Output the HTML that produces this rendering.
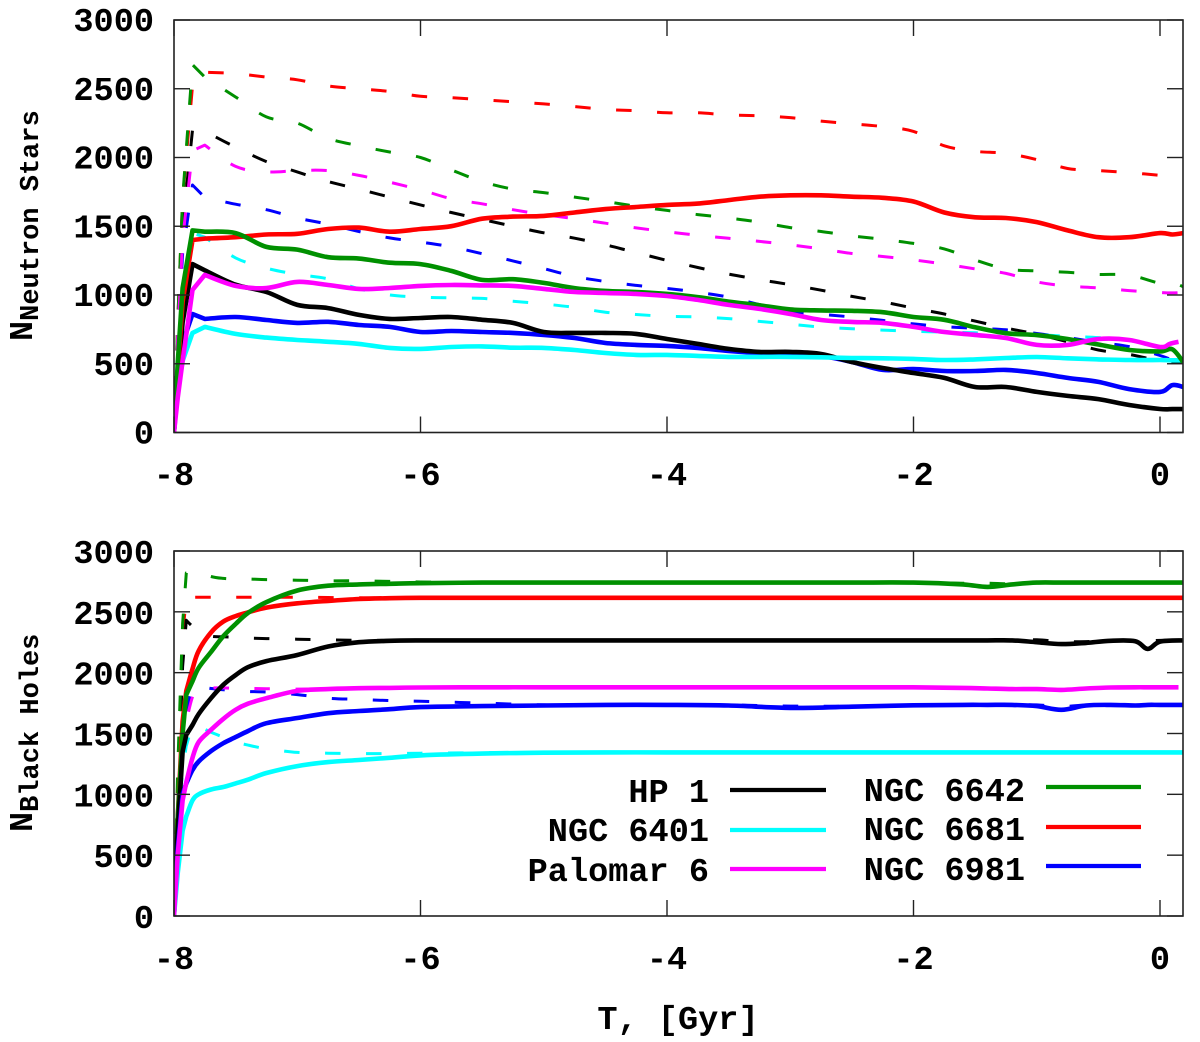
<!DOCTYPE html>
<html lang="en">
<head>
<meta charset="utf-8">
<title>Neutron stars and black holes over time</title>
<style>
html,body{margin:0;padding:0;background:#fff;width:1200px;height:1042px;overflow:hidden}
svg{display:block}
text{font-family:"Liberation Mono",monospace;font-weight:bold;fill:#000}
</style>
</head>
<body>
<svg id="chart" width="1200" height="1042" viewBox="0 0 1200 1042" xmlns="http://www.w3.org/2000/svg">
<defs>
<clipPath id="clip-top"><rect x="174" y="20" width="1009" height="412.5"/></clipPath>
<clipPath id="clip-bottom"><rect x="174" y="551" width="1009" height="365"/></clipPath>
</defs>
<g id="top-panel"></g>
<g id="bottom-panel"></g>
<text transform="translate(32,341) rotate(-90)" font-size="33.6">N<tspan dy="6" font-size="27">Neutron Stars</tspan></text>
<text transform="translate(32,832) rotate(-90)" font-size="33.6">N<tspan dy="6" font-size="27">Black Holes</tspan></text>
<text x="678" y="1029" font-size="33.6" text-anchor="middle">T, [Gyr]</text>
<g>
<g><text x="709" y="802" font-size="33.6" text-anchor="end">HP 1</text><line x1="730" x2="826" y1="790" y2="790" stroke="#000" stroke-width="4.2"/></g>
<g><text x="709" y="841" font-size="33.6" text-anchor="end">NGC 6401</text><line x1="730" x2="826" y1="830" y2="830" stroke="#00ffff" stroke-width="4.2"/></g>
<g><text x="709" y="881" font-size="33.6" text-anchor="end">Palomar 6</text><line x1="730" x2="826" y1="869" y2="869" stroke="#ff00ff" stroke-width="4.2"/></g>
<g><text x="1025" y="801" font-size="33.6" text-anchor="end">NGC 6642</text><line x1="1046" x2="1141" y1="787" y2="787" stroke="#009000" stroke-width="4.2"/></g>
<g><text x="1025" y="840" font-size="33.6" text-anchor="end">NGC 6681</text><line x1="1046" x2="1141" y1="827" y2="827" stroke="#ff0000" stroke-width="4.2"/></g>
<g><text x="1025" y="880" font-size="33.6" text-anchor="end">NGC 6981</text><line x1="1046" x2="1141" y1="866" y2="866" stroke="#0000ff" stroke-width="4.2"/></g>
</g>
</svg>
<script>
const xTickLabels = [-8, -6, -4, -2, 0];
const yTickLabels = [0, 500, 1000, 1500, 2000, 2500, 3000];

const topTimes = [-8,-7.97,-7.93,-7.85,-7.75,-7.5,-7.25,-7,-6.75,-6.5,-6.25,-6,-5.75,-5.5,-5.25,-5,-4.75,-4.5,-4.25,-4,-3.75,-3.5,-3.25,-3,-2.75,-2.5,-2.25,-2,-1.75,-1.5,-1.25,-1,-0.75,-0.5,-0.25,0,0.1,0.19];
const palomarTopTimes = [-8,-7.97,-7.93,-7.85,-7.75,-7.5,-7.25,-7,-6.75,-6.5,-6.25,-6,-5.75,-5.5,-5.25,-5,-4.75,-4.5,-4.25,-4,-3.75,-3.5,-3.25,-3,-2.75,-2.5,-2.25,-2,-1.75,-1.5,-1.25,-1,-0.75,-0.5,-0.25,0,0.08,0.15];

const nsBlackDash = [0,700,1500,2200,2190,2075,1970,1895,1825,1770,1712,1655,1600,1550,1500,1452,1413,1365,1308,1252,1200,1152,1112,1075,1035,990,950,905,862,810,760,715,660,600,568,520,513,510];
const nsCyanDash = [0,600,1100,1450,1420,1270,1195,1150,1117,1045,1000,985,979,975,955,935,910,875,858,845,840,828,808,787,767,755,745,737,730,725,720,712,700,690,668,630,600,530];
const nsMagentaDash = [0,700,1400,2050,2090,1935,1895,1905,1905,1870,1820,1765,1700,1663,1620,1585,1555,1522,1488,1460,1435,1412,1390,1365,1335,1302,1280,1255,1225,1190,1157,1095,1065,1052,1032,1018,1015,1020];
const nsGreenDash = [0,800,1700,2675,2585,2440,2295,2250,2140,2085,2040,2000,1910,1825,1770,1745,1712,1680,1645,1615,1585,1560,1530,1490,1462,1430,1405,1375,1335,1255,1190,1175,1165,1150,1145,1085,1090,1060];
const nsRedDash = [0,800,1700,2520,2620,2610,2585,2565,2520,2500,2480,2445,2435,2420,2405,2390,2370,2350,2340,2325,2325,2310,2303,2290,2265,2245,2225,2190,2085,2045,2030,1985,1920,1905,1890,1870,1862,1855];
const nsBlueDash = [0,650,1300,1800,1710,1660,1620,1560,1515,1462,1415,1385,1350,1300,1248,1192,1135,1098,1070,1048,1020,985,930,880,860,840,815,790,770,758,747,720,690,655,625,560,530,520];

const nsBlack = [0,400,800,1225,1180,1075,1022,928,905,855,826,833,840,820,797,731,724,724,717,680,644,608,586,586,571,513,469,433,397,331,331,295,266,243,200,171,170,170];
const nsCyan = [0,300,520,724,768,717,690,673,660,644,615,608,622,626,617,615,600,578,564,564,557,550,550,550,547,542,540,535,527,532,542,549,540,532,527,527,525,525];
const nsMagenta = [0,250,520,1037,1146,1066,1051,1095,1073,1044,1051,1066,1073,1070,1066,1044,1022,1015,1008,993,964,928,899,862,818,804,797,768,731,710,687,637,637,680,673,622,645,660];
const nsGreen = [0,500,1050,1470,1460,1450,1350,1330,1275,1265,1235,1225,1175,1110,1115,1088,1050,1030,1022,1008,985,952,925,895,888,885,875,840,820,765,722,708,680,640,600,590,605,510];
const nsRed = [0,450,950,1400,1410,1420,1440,1445,1480,1490,1460,1480,1500,1555,1570,1575,1600,1625,1640,1655,1665,1690,1715,1725,1725,1715,1707,1680,1600,1565,1560,1530,1470,1420,1420,1450,1440,1450];
const nsBlue = [0,350,650,862,826,840,818,797,805,782,768,731,738,731,724,710,687,651,637,630,615,593,579,579,557,513,455,462,447,447,455,433,397,368,316,295,345,331];

const bottomTimes = [-8,-7.97,-7.93,-7.9,-7.85,-7.8,-7.7,-7.6,-7.5,-7.4,-7.25,-7,-6.75,-6.5,-6.25,-6,-5.5,-5,-4.5,-4,-3.5,-3,-2.5,-2,-1.6,-1.4,-1.2,-1,-0.8,-0.6,-0.4,-0.2,-0.1,0,0.19];
const palomarBottomTimes = [-8,-7.97,-7.93,-7.9,-7.85,-7.8,-7.7,-7.6,-7.5,-7.4,-7.25,-7,-6.75,-6.5,-6.25,-6,-5.5,-5,-4.5,-4,-3.5,-3,-2.5,-2,-1.6,-1.4,-1.2,-1,-0.8,-0.6,-0.4,-0.2,-0.1,0,0.15];

const bhBlackDash = [0,900,2050,2430,2380,2340,2300,2295,2290,2285,2280,2275,2270,2265,2265,2265,2265,2265,2265,2265,2265,2265,2265,2265,2265,2265,2265,2270,2255,2255,2265,2265,2260,2265,2265];
const bhCyanDash = [0,700,1200,1400,1550,1560,1510,1470,1430,1405,1375,1345,1338,1335,1335,1338,1342,1345,1345,1345,1345,1345,1345,1345,1345,1345,1345,1345,1345,1345,1345,1345,1345,1345,1345];
const bhMagentaDash = [0,750,1300,1600,1800,1870,1875,1875,1870,1870,1868,1865,1868,1872,1875,1878,1880,1880,1880,1880,1880,1880,1880,1880,1875,1870,1865,1865,1860,1870,1875,1880,1880,1880,1880];
const bhGreenDash = [0,1200,2400,2820,2830,2830,2790,2775,2770,2770,2765,2760,2755,2755,2750,2745,2740,2740,2740,2740,2740,2740,2740,2740,2735,2735,2730,2740,2740,2740,2740,2740,2740,2740,2740];
const bhRedDash = [0,1000,2300,2620,2620,2620,2620,2620,2620,2620,2620,2620,2618,2615,2615,2615,2615,2615,2615,2615,2615,2615,2615,2615,2615,2615,2615,2615,2615,2615,2615,2615,2615,2615,2615];
const bhBlueDash = [0,800,1400,1700,1860,1885,1870,1860,1850,1845,1840,1820,1790,1780,1770,1765,1750,1735,1735,1735,1735,1725,1725,1735,1735,1735,1735,1735,1720,1735,1735,1735,1735,1735,1735];

const bhBlack = [0,700,1350,1490,1570,1660,1790,1900,1980,2045,2095,2145,2215,2250,2262,2265,2265,2265,2265,2265,2265,2265,2265,2265,2265,2265,2265,2250,2235,2245,2262,2258,2195,2255,2265];
const bhCyan = [0,350,700,820,950,1000,1040,1060,1090,1120,1175,1232,1265,1282,1300,1320,1335,1342,1345,1345,1345,1345,1345,1345,1345,1345,1345,1345,1345,1345,1345,1345,1345,1345,1345];
const bhMagenta = [0,500,950,1100,1300,1430,1530,1620,1695,1745,1790,1850,1865,1872,1875,1878,1880,1880,1880,1880,1880,1880,1880,1880,1875,1870,1865,1865,1858,1870,1878,1880,1880,1880,1880];
const bhGreen = [0,800,1500,1820,1930,2040,2170,2300,2400,2490,2580,2675,2715,2725,2730,2735,2740,2740,2740,2740,2740,2740,2740,2740,2725,2705,2725,2740,2740,2740,2740,2740,2740,2740,2740];
const bhRed = [0,800,1600,1850,2030,2180,2330,2420,2465,2495,2535,2570,2590,2605,2612,2615,2615,2615,2615,2615,2615,2615,2615,2615,2615,2615,2615,2615,2615,2615,2615,2615,2615,2615,2615];
const bhBlue = [0,550,1000,1090,1200,1270,1355,1420,1470,1520,1585,1627,1667,1685,1700,1717,1725,1730,1735,1735,1730,1710,1720,1732,1735,1735,1735,1725,1695,1730,1735,1730,1735,1735,1735];

const colorBlack = '#000000';
const colorCyan = '#00ffff';
const colorMagenta = '#ff00ff';
const colorGreen = '#009000';
const colorRed = '#ff0000';
const colorBlue = '#0000ff';

const SVGNS = 'http://www.w3.org/2000/svg';
const plotLeft = 174, plotRight = 1183;
function xScale(t) { return 174 + (t + 8) * 123.25; }
function yTop(v) { return 432.5 - v * 0.13750; }
function yBottom(v) { return 916 - v * 0.12167; }

function addLine(parent, x1, y1, x2, y2, name) {
  const l = document.createElementNS(SVGNS, 'line');
  l.setAttribute('x1', x1); l.setAttribute('y1', y1);
  l.setAttribute('x2', x2); l.setAttribute('y2', y2);
  l.setAttribute('stroke', '#222');
  l.setAttribute('stroke-width', '1.4');
  
  
  parent.appendChild(l);
}
function addText(parent, x, y, str, anchor, name) {
  const t = document.createElementNS(SVGNS, 'text');
  t.setAttribute('x', x); t.setAttribute('y', y);
  t.setAttribute('font-size', '33.6');
  t.setAttribute('text-anchor', anchor);
  t.textContent = str;
  
  
  parent.appendChild(t);
}
function smoothPath(pts, smoothFrom) {
  let d = 'M' + pts[0][0].toFixed(1) + ' ' + pts[0][1].toFixed(1);
  for (let i = 1; i < pts.length; i++) {
    const p1 = pts[i - 1], p2 = pts[i];
    if (i - 1 < smoothFrom) {
      d += 'L' + p2[0].toFixed(1) + ' ' + p2[1].toFixed(1);
      continue;
    }
    const p0 = i - 1 === smoothFrom ? p1 : pts[i - 2];
    const p3 = i + 1 < pts.length ? pts[i + 1] : p2;
    const c1x = p1[0] + (p2[0] - p0[0]) / 6, c1y = p1[1] + (p2[1] - p0[1]) / 6;
    const c2x = p2[0] - (p3[0] - p1[0]) / 6, c2y = p2[1] - (p3[1] - p1[1]) / 6;
    d += 'C' + c1x.toFixed(1) + ' ' + c1y.toFixed(1) + ' ' + c2x.toFixed(1) + ' ' + c2y.toFixed(1) + ' ' + p2[0].toFixed(1) + ' ' + p2[1].toFixed(1);
  }
  return d;
}
function addSeries(parent, times, values, yFn, color, dashed, clip, smoothFrom, name) {
  const p = document.createElementNS(SVGNS, 'path');
  const pts = times.map((t, i) => [xScale(t), yFn(values[i])]);
  p.setAttribute('d', smoothPath(pts, smoothFrom));
  p.setAttribute('fill', 'none');
  p.setAttribute('stroke', color);
  p.setAttribute('stroke-width', dashed ? '3' : '4.6');
  p.setAttribute('stroke-linejoin', 'round');
  if (dashed) p.setAttribute('stroke-dasharray', '15.5 25.5');
  p.setAttribute('clip-path', 'url(#' + clip + ')');
  
  
  parent.appendChild(p);
}
function drawFrame(parent, yFn, top, bottom, xLabelY, yLabelOffset) {
  const r = document.createElementNS(SVGNS, 'rect');
  r.setAttribute('x', plotLeft); r.setAttribute('y', top);
  r.setAttribute('width', plotRight - plotLeft); r.setAttribute('height', bottom - top);
  r.setAttribute('fill', 'none'); r.setAttribute('stroke', '#222'); r.setAttribute('stroke-width', '1.6');
  
  
  parent.appendChild(r);
  yTickLabels.forEach(v => {
    const y = yFn(v);
    addLine(parent, plotLeft, y, plotLeft + 16, y, 'y-tick-left');
    addLine(parent, plotRight - 16, y, plotRight, y, 'y-tick-right');
    addText(parent, 154, y + yLabelOffset, String(v), 'end', 'y-tick-label');
  });
  xTickLabels.forEach(v => {
    const x = xScale(v);
    addLine(parent, x, bottom, x, bottom - 16, 'x-tick-bottom');
    addLine(parent, x, top, x, top + 16, 'x-tick-top');
    addText(parent, x, xLabelY, String(v), 'middle', 'x-tick-label');
  });
}

const topPanel = document.getElementById('top-panel');
const bottomPanel = document.getElementById('bottom-panel');

addSeries(topPanel, topTimes, nsRedDash, yTop, colorRed, true, 'clip-top', 4, 'ngc-6681-initial-neutron-stars');
addSeries(topPanel, topTimes, nsBlackDash, yTop, colorBlack, true, 'clip-top', 4, 'hp-1-initial-neutron-stars');
addSeries(topPanel, topTimes, nsBlueDash, yTop, colorBlue, true, 'clip-top', 4, 'ngc-6981-initial-neutron-stars');
addSeries(topPanel, topTimes, nsCyanDash, yTop, colorCyan, true, 'clip-top', 4, 'ngc-6401-initial-neutron-stars');
addSeries(topPanel, topTimes, nsGreenDash, yTop, colorGreen, true, 'clip-top', 4, 'ngc-6642-initial-neutron-stars');
addSeries(topPanel, topTimes, nsMagentaDash, yTop, colorMagenta, true, 'clip-top', 4, 'palomar-6-initial-neutron-stars');
addSeries(topPanel, topTimes, nsBlue, yTop, colorBlue, false, 'clip-top', 4, 'ngc-6981-neutron-stars');
addSeries(topPanel, topTimes, nsBlack, yTop, colorBlack, false, 'clip-top', 4, 'hp-1-neutron-stars');
addSeries(topPanel, topTimes, nsCyan, yTop, colorCyan, false, 'clip-top', 4, 'ngc-6401-neutron-stars');
addSeries(topPanel, topTimes, nsRed, yTop, colorRed, false, 'clip-top', 4, 'ngc-6681-neutron-stars');
addSeries(topPanel, topTimes, nsGreen, yTop, colorGreen, false, 'clip-top', 4, 'ngc-6642-neutron-stars');
addSeries(topPanel, palomarTopTimes, nsMagenta, yTop, colorMagenta, false, 'clip-top', 4, 'palomar-6-neutron-stars');
drawFrame(topPanel, yTop, 20, 432.5, 485, 11);

addSeries(bottomPanel, bottomTimes, bhRedDash, yBottom, colorRed, true, 'clip-bottom', 3, 'ngc-6681-initial-black-holes');
addSeries(bottomPanel, bottomTimes, bhBlackDash, yBottom, colorBlack, true, 'clip-bottom', 3, 'hp-1-initial-black-holes');
addSeries(bottomPanel, bottomTimes, bhBlueDash, yBottom, colorBlue, true, 'clip-bottom', 3, 'ngc-6981-initial-black-holes');
addSeries(bottomPanel, bottomTimes, bhCyanDash, yBottom, colorCyan, true, 'clip-bottom', 3, 'ngc-6401-initial-black-holes');
addSeries(bottomPanel, bottomTimes, bhGreenDash, yBottom, colorGreen, true, 'clip-bottom', 3, 'ngc-6642-initial-black-holes');
addSeries(bottomPanel, bottomTimes, bhMagentaDash, yBottom, colorMagenta, true, 'clip-bottom', 3, 'palomar-6-initial-black-holes');
addSeries(bottomPanel, bottomTimes, bhRed, yBottom, colorRed, false, 'clip-bottom', 3, 'ngc-6681-black-holes');
addSeries(bottomPanel, bottomTimes, bhGreen, yBottom, colorGreen, false, 'clip-bottom', 3, 'ngc-6642-black-holes');
addSeries(bottomPanel, bottomTimes, bhBlack, yBottom, colorBlack, false, 'clip-bottom', 3, 'hp-1-black-holes');
addSeries(bottomPanel, bottomTimes, bhBlue, yBottom, colorBlue, false, 'clip-bottom', 3, 'ngc-6981-black-holes');
addSeries(bottomPanel, bottomTimes, bhCyan, yBottom, colorCyan, false, 'clip-bottom', 3, 'ngc-6401-black-holes');
addSeries(bottomPanel, palomarBottomTimes, bhMagenta, yBottom, colorMagenta, false, 'clip-bottom', 3, 'palomar-6-black-holes');
drawFrame(bottomPanel, yBottom, 551, 916, 969, 12);
</script>
</body>
</html>
